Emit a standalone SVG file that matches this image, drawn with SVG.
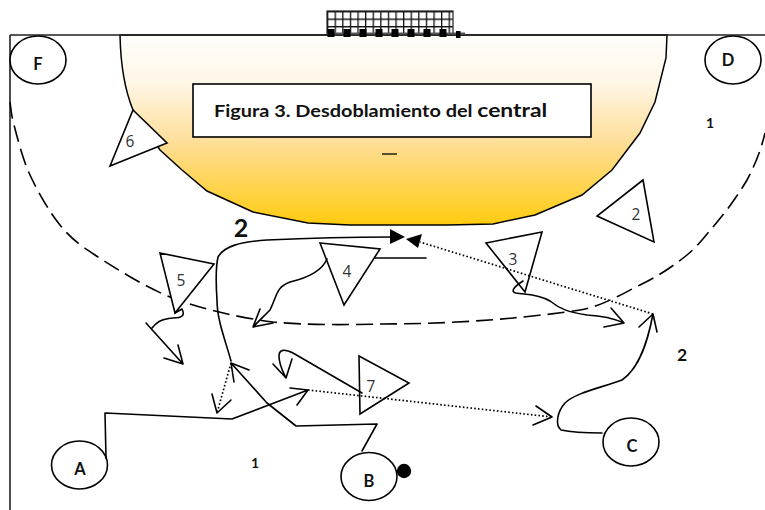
<svg xmlns="http://www.w3.org/2000/svg" width="765" height="510" viewBox="0 0 765 510">
<style>
.l{fill:none;stroke:#000;stroke-width:1.6;stroke-linejoin:round;stroke-linecap:round}
.dot{fill:none;stroke:#000;stroke-width:1.7;stroke-dasharray:1.6 2.2}
.n{fill:#fff;stroke:#000;stroke-width:1.6;stroke-linejoin:miter}
.t{font-family:"Open Sans","Liberation Sans",sans-serif;font-size:15.500px;fill:#333;text-anchor:middle}
.b{font-family:Lato,"Liberation Sans",sans-serif;font-weight:700;fill:#111;text-anchor:middle}
</style>
<defs>
<linearGradient id="zone" x1="0" y1="0" x2="0" y2="1"><stop offset="0" stop-color="#fffefc"/><stop offset=".25" stop-color="#fff6e6"/><stop offset=".55" stop-color="#fedf9c"/><stop offset="1" stop-color="#ffcb0f"/></linearGradient>
<pattern id="net" width="7.6" height="7.5" patternUnits="userSpaceOnUse" x="327" y="11"><rect width="7.6" height="7.5" fill="#fff"/><path d="M0 0H7.6M0 0V7.5" fill="none" stroke="#111" stroke-width="2.600"/></pattern>
</defs>
<g id="field">
<path d="M120 35C120.500 60 124 88 133 110L160 150L182 170L207 191L253 212L308 223L350 225H447L493 224L535 215L582 195L612 170L640 133L655 102L666 58L667 35Z" fill="url(#zone)" stroke="#000" stroke-width="1.5"/>
<path d="M10 35H765M10 35V510" fill="none" stroke="#222" stroke-width="1.6"/>
<path d="M10 102C10.700 106 10.700 112.800 14 125C17.300 137.200 22.300 158.300 30 175C37.700 191.700 49.200 211.700 60 225C70.800 238.300 77.200 243 95 255C115 268 155 294 187 303C205 309 240 318 273 322C305 325 345 325 380 324C425 324 470 322 513 318C535 316 560 313 580 310C600 307 620 295 640 285C657 277 672 267 687 255C697 247 705 236 713 227C725 213 737 197 747 180C755 165 761 150 765 133" fill="none" stroke="#000" stroke-width="1.6" stroke-dasharray="17 7"/>
</g>
<g id="goal">
<rect x="327" y="11" width="126" height="23" fill="url(#net)" stroke="#222" stroke-width="1.2"/>
<path d="M327 33.500H465" stroke="#555" stroke-width="2"/>
<path d="M327.500 29h7v8h-7zM343.500 29h7v8h-7zM359.500 29h7v8h-7zM375.500 29h7v8h-7zM391.500 29h7v8h-7zM407.500 29h7v8h-7zM423.500 29h7v8h-7zM439.500 29h7v8h-7zM456 31h4.500v7H456z" fill="#000"/>
</g>
<g id="title">
<rect x="193" y="84" width="398" height="53" fill="#fff" stroke="#000" stroke-width="1.6"/>
<text transform="translate(214 117) scale(1.170 1)" font-family="Lato,'Liberation Sans',sans-serif" font-weight="700" font-size="17" fill="#111">Figura 3. Desdoblamiento del <tspan font-size="19.500">central</tspan></text>
<path d="M382 154H397" stroke="#000" stroke-width="1.3"/>
</g>
<g id="node-F"><ellipse class="n" cx="38" cy="60" rx="28" ry="24"/><text class="b" x="38" y="70" font-size="16.500">F</text></g>
<g id="node-D"><ellipse class="n" cx="733" cy="60" rx="28" ry="24"/><text class="b" x="728" y="66" font-size="16.500">D</text></g>
<g id="node-A"><ellipse class="n" cx="79.500" cy="465" rx="28" ry="24"/><text class="b" x="80" y="475" font-size="16.500">A</text></g>
<g id="node-B"><ellipse class="n" cx="369" cy="476.500" rx="28" ry="24"/><text class="b" x="369" y="487" font-size="16.500">B</text></g>
<g id="node-C"><ellipse class="n" cx="631" cy="442" rx="28" ry="24"/><text class="b" x="632" y="452" font-size="16.500">C</text></g>
<g id="ball"><circle cx="404" cy="471" r="7.200" fill="#000"/></g>
<g id="node-2"><path class="n" d="M643 180L597 216L654 242Z"/><text class="t" x="636" y="220">2</text></g>
<g id="node-3"><path class="n" d="M486 243L542 232L525 292Z"/><text class="t" x="513" y="265">3</text></g>
<g id="node-4"><path class="n" d="M320 243L380 249L344 305Z"/><text class="t" x="347" y="277">4</text></g>
<g id="node-5"><path class="n" d="M160 253L214 264L175 313Z"/><text class="t" x="181" y="286">5</text></g>
<g id="node-6"><path class="n" d="M133 110L167 143L110 166Z"/><text class="t" x="130" y="147">6</text></g>
<g id="node-7"><path class="n" d="M359 356L409 383L360 414Z"/><text class="t" x="371" y="392">7</text></g>
<g id="labels">
<text class="b" x="241" y="237" font-size="25">2</text>
<text class="b" x="682" y="361" font-size="17.500">2</text>
<text class="b" x="255" y="468" font-size="14">1</text>
<text class="b" x="710" y="128" font-size="14">1</text>
</g>
<g id="connectors">
<path class="l" d="M231 361C225 339 217 320 217 300C216 285 215 270 218 257C224 246 240 242 267 240C310 238 350 237 392 237"/>
<path d="M390 229L405 237L390 244Z" fill="#000"/>
<path class="dot" d="M653 314L420 242"/>
<path d="M422 234L406 239L418 248Z" fill="#000"/>
<path class="l" d="M375 258H426"/>
<path class="l" d="M106 458L105 413L232 419L308 390M290 388L308 390L297 405"/>
<path class="l" d="M362 451L377 424L296 426L267 403L231 363M249 370L231 363L234 382"/>
<path class="dot" d="M231 363L217 413"/>
<path class="l" d="M212 394L217 413L231 400"/>
<path class="dot" d="M308 390L552 417"/>
<path class="l" d="M536 406L552 417L533 425"/>
<path class="l" d="M362 393L293 353C285 349 279 349 279 356C279 365 283 372 286 378M292 359L286 378L273 364"/>
<path class="l" d="M175 313L182 309C185 315 183 318 173 318C160 319 156 323 152 328M146 323L183 364M178 345L183 364L164 358"/>
<path class="l" d="M327 259C322 271 307 278 290 282C276 287 277 296 270 310L253 327M260 309L253 327L273 323"/>
<path class="l" d="M523 281C512 288 511 292 516 293C530 295 540 295 550 301C560 309 568 312 587 315C605 316 615 319 624 323M611 308L624 323L604 327"/>
<path class="l" d="M602 433C585 433 570 432 561 430C555 425 557 412 565 403C575 393 600 388 622 380C640 368 648 340 653 314M639 327L653 314L657 332"/>
</g>
</svg>
